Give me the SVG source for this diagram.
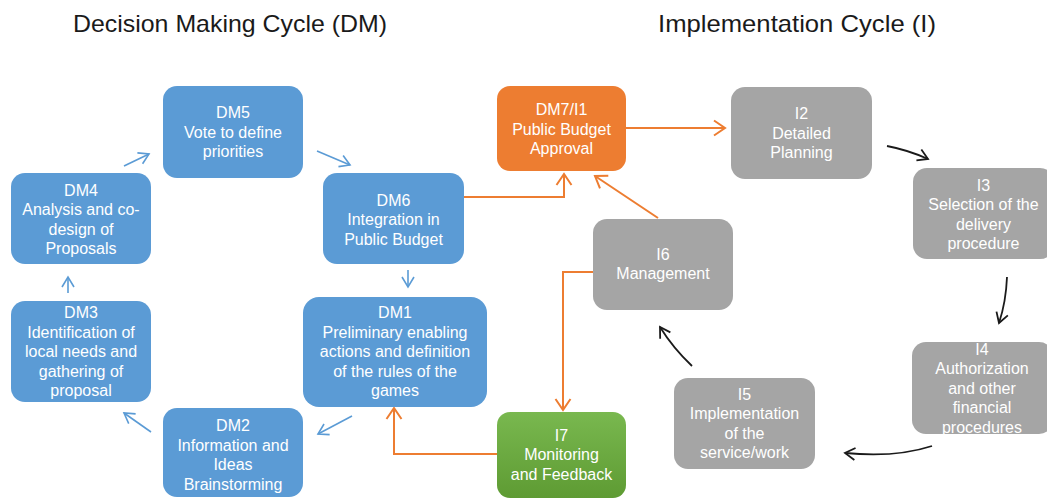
<svg xmlns="http://www.w3.org/2000/svg" width="1047" height="498" viewBox="0 0 1047 498">
<style>
.t{font-family:"Liberation Sans",Arial,sans-serif;font-size:16px;fill:#fff;text-anchor:middle}
.title{font-family:"Liberation Sans",Arial,sans-serif;font-size:24px;fill:#1a1a1a}
.blue{fill:#5B9BD5}
.orange{fill:#ED7D31}
.gray{fill:#A5A5A5}
.cb{fill:none;stroke:#5B9BD5;stroke-width:1.6}
.co{fill:none;stroke:#ED7D31;stroke-width:2}
.ck{fill:none;stroke:#1a1a1a;stroke-width:1.8}
</style>
<defs>
<linearGradient id="g" x1="0" y1="0" x2="0" y2="1">
<stop offset="0" stop-color="#79B84F"/>
<stop offset="1" stop-color="#5E9B33"/>
</linearGradient>
<marker id="ab" markerUnits="userSpaceOnUse" markerWidth="24" markerHeight="24" viewBox="-12 -12 24 24" refX="0" refY="0" orient="auto">
<path d="M-10,-6 L0,0 L-10,6" fill="none" stroke="#5B9BD5" stroke-width="1.6"/>
</marker>
<marker id="ao" markerUnits="userSpaceOnUse" markerWidth="24" markerHeight="24" viewBox="-12 -12 24 24" refX="0" refY="0" orient="auto">
<path d="M-11,-7.5 L0,0 L-11,7.5" fill="none" stroke="#ED7D31" stroke-width="2"/>
</marker>
<marker id="ak" markerUnits="userSpaceOnUse" markerWidth="24" markerHeight="24" viewBox="-12 -12 24 24" refX="0" refY="0" orient="auto">
<path d="M-10,-6 L0,0 L-10,6" fill="none" stroke="#1a1a1a" stroke-width="1.8"/>
</marker>
</defs>
<rect width="1047" height="498" fill="#fff"/>
<text class="title" x="73" y="32" textLength="314" lengthAdjust="spacingAndGlyphs">Decision Making Cycle (DM)</text>
<text class="title" x="658" y="32" textLength="278" lengthAdjust="spacingAndGlyphs">Implementation Cycle (I)</text>

<g id="connectors">
<path class="cb" d="M124,166 L149,154" marker-end="url(#ab)"/>
<path class="cb" d="M317,151 L350,165" marker-end="url(#ab)"/>
<path class="cb" d="M408,270 L408,287" marker-end="url(#ab)"/>
<path class="cb" d="M352,416 L318,434" marker-end="url(#ab)"/>
<path class="cb" d="M151,432 L124,413" marker-end="url(#ab)"/>
<path class="cb" d="M68,293 L68,277" marker-end="url(#ab)"/>
<path class="co" d="M464,197 H564 V174" marker-end="url(#ao)"/>
<path class="co" d="M626,128 H725" marker-end="url(#ao)"/>
<path class="co" d="M658,218 L595,176" marker-end="url(#ao)"/>
<path class="co" d="M593,272 H563 V410" marker-end="url(#ao)"/>
<path class="co" d="M497,454 H394 V408" marker-end="url(#ao)"/>
<path class="ck" d="M887,146 Q908,150 928,159" marker-end="url(#ak)"/>
<path class="ck" d="M1007,277 Q1006,302 999,323" marker-end="url(#ak)"/>
<path class="ck" d="M932,446 Q895,458 845,453" marker-end="url(#ak)"/>
<path class="ck" d="M692,366 Q673,348 660,327" marker-end="url(#ak)"/>
</g>

<g id="DM5"><rect class="blue" x="163" y="86" width="140" height="92" rx="14"/>
<text class="t"><tspan x="233" y="118">DM5</tspan><tspan x="233" y="137.5">Vote to define</tspan><tspan x="233" y="157">priorities</tspan></text></g>

<g id="DM4"><rect class="blue" x="11" y="173" width="140" height="91" rx="14"/>
<text class="t"><tspan x="81" y="195.5">DM4</tspan><tspan x="81" y="215">Analysis  and co-</tspan><tspan x="81" y="234.5">design of</tspan><tspan x="81" y="254">Proposals</tspan></text></g>

<g id="DM3"><rect class="blue" x="11" y="301" width="140" height="101" rx="14"/>
<text class="t"><tspan x="81" y="318">DM3</tspan><tspan x="81" y="337.5">Identification of</tspan><tspan x="81" y="357">local needs and</tspan><tspan x="81" y="376.5">gathering of</tspan><tspan x="81" y="396">proposal</tspan></text></g>

<g id="DM2"><rect class="blue" x="163" y="408" width="140" height="89" rx="14"/>
<text class="t"><tspan x="233" y="431">DM2</tspan><tspan x="233" y="450.5">Information and</tspan><tspan x="233" y="470">Ideas</tspan><tspan x="233" y="489.5">Brainstorming</tspan></text></g>

<g id="DM6"><rect class="blue" x="323" y="173" width="141" height="91" rx="14"/>
<text class="t"><tspan x="393.5" y="205.5">DM6</tspan><tspan x="393.5" y="225">Integration in</tspan><tspan x="393.5" y="244.5">Public Budget</tspan></text></g>

<g id="DM1"><rect class="blue" x="303" y="297" width="184" height="110" rx="16"/>
<text class="t"><tspan x="395" y="318">DM1</tspan><tspan x="395" y="337.5">Preliminary enabling</tspan><tspan x="395" y="357">actions and definition</tspan><tspan x="395" y="376.5">of the rules of the</tspan><tspan x="395" y="396">games</tspan></text></g>

<g id="DM7_I1"><rect class="orange" x="497" y="86" width="129" height="85" rx="13"/>
<text class="t"><tspan x="561.5" y="115">DM7/I1</tspan><tspan x="561.5" y="134.5">Public Budget</tspan><tspan x="561.5" y="154">Approval</tspan></text></g>

<g id="I7"><rect fill="url(#g)" x="497" y="412" width="129" height="86" rx="13"/>
<text class="t"><tspan x="561.5" y="440.5">I7</tspan><tspan x="561.5" y="460">Monitoring</tspan><tspan x="561.5" y="479.5">and Feedback</tspan></text></g>

<g id="I6"><rect class="gray" x="593" y="219" width="140" height="91" rx="14"/>
<text class="t"><tspan x="663" y="259.5">I6</tspan><tspan x="663" y="279">Management</tspan></text></g>

<g id="I2"><rect class="gray" x="731" y="87" width="141" height="92" rx="14"/>
<text class="t"><tspan x="801.5" y="119">I2</tspan><tspan x="801.5" y="138.5">Detailed</tspan><tspan x="801.5" y="158">Planning</tspan></text></g>

<g id="I3"><rect class="gray" x="913" y="168" width="141" height="91" rx="14"/>
<text class="t"><tspan x="983.5" y="190.5">I3</tspan><tspan x="983.5" y="210">Selection of the</tspan><tspan x="983.5" y="229.5">delivery</tspan><tspan x="983.5" y="249">procedure</tspan></text></g>

<g id="I4"><rect class="gray" x="912" y="342" width="141" height="92" rx="14"/>
<text class="t"><tspan x="982" y="354.5">I4</tspan><tspan x="982" y="374">Authorization</tspan><tspan x="982" y="393.5">and other</tspan><tspan x="982" y="413">financial</tspan><tspan x="982" y="432.5">procedures</tspan></text></g>

<g id="I5"><rect class="gray" x="674" y="378" width="141" height="91" rx="14"/>
<text class="t"><tspan x="744.5" y="399.5">I5</tspan><tspan x="744.5" y="419">Implementation</tspan><tspan x="744.5" y="438.5">of the</tspan><tspan x="744.5" y="458">service/work</tspan></text></g>
</svg>
